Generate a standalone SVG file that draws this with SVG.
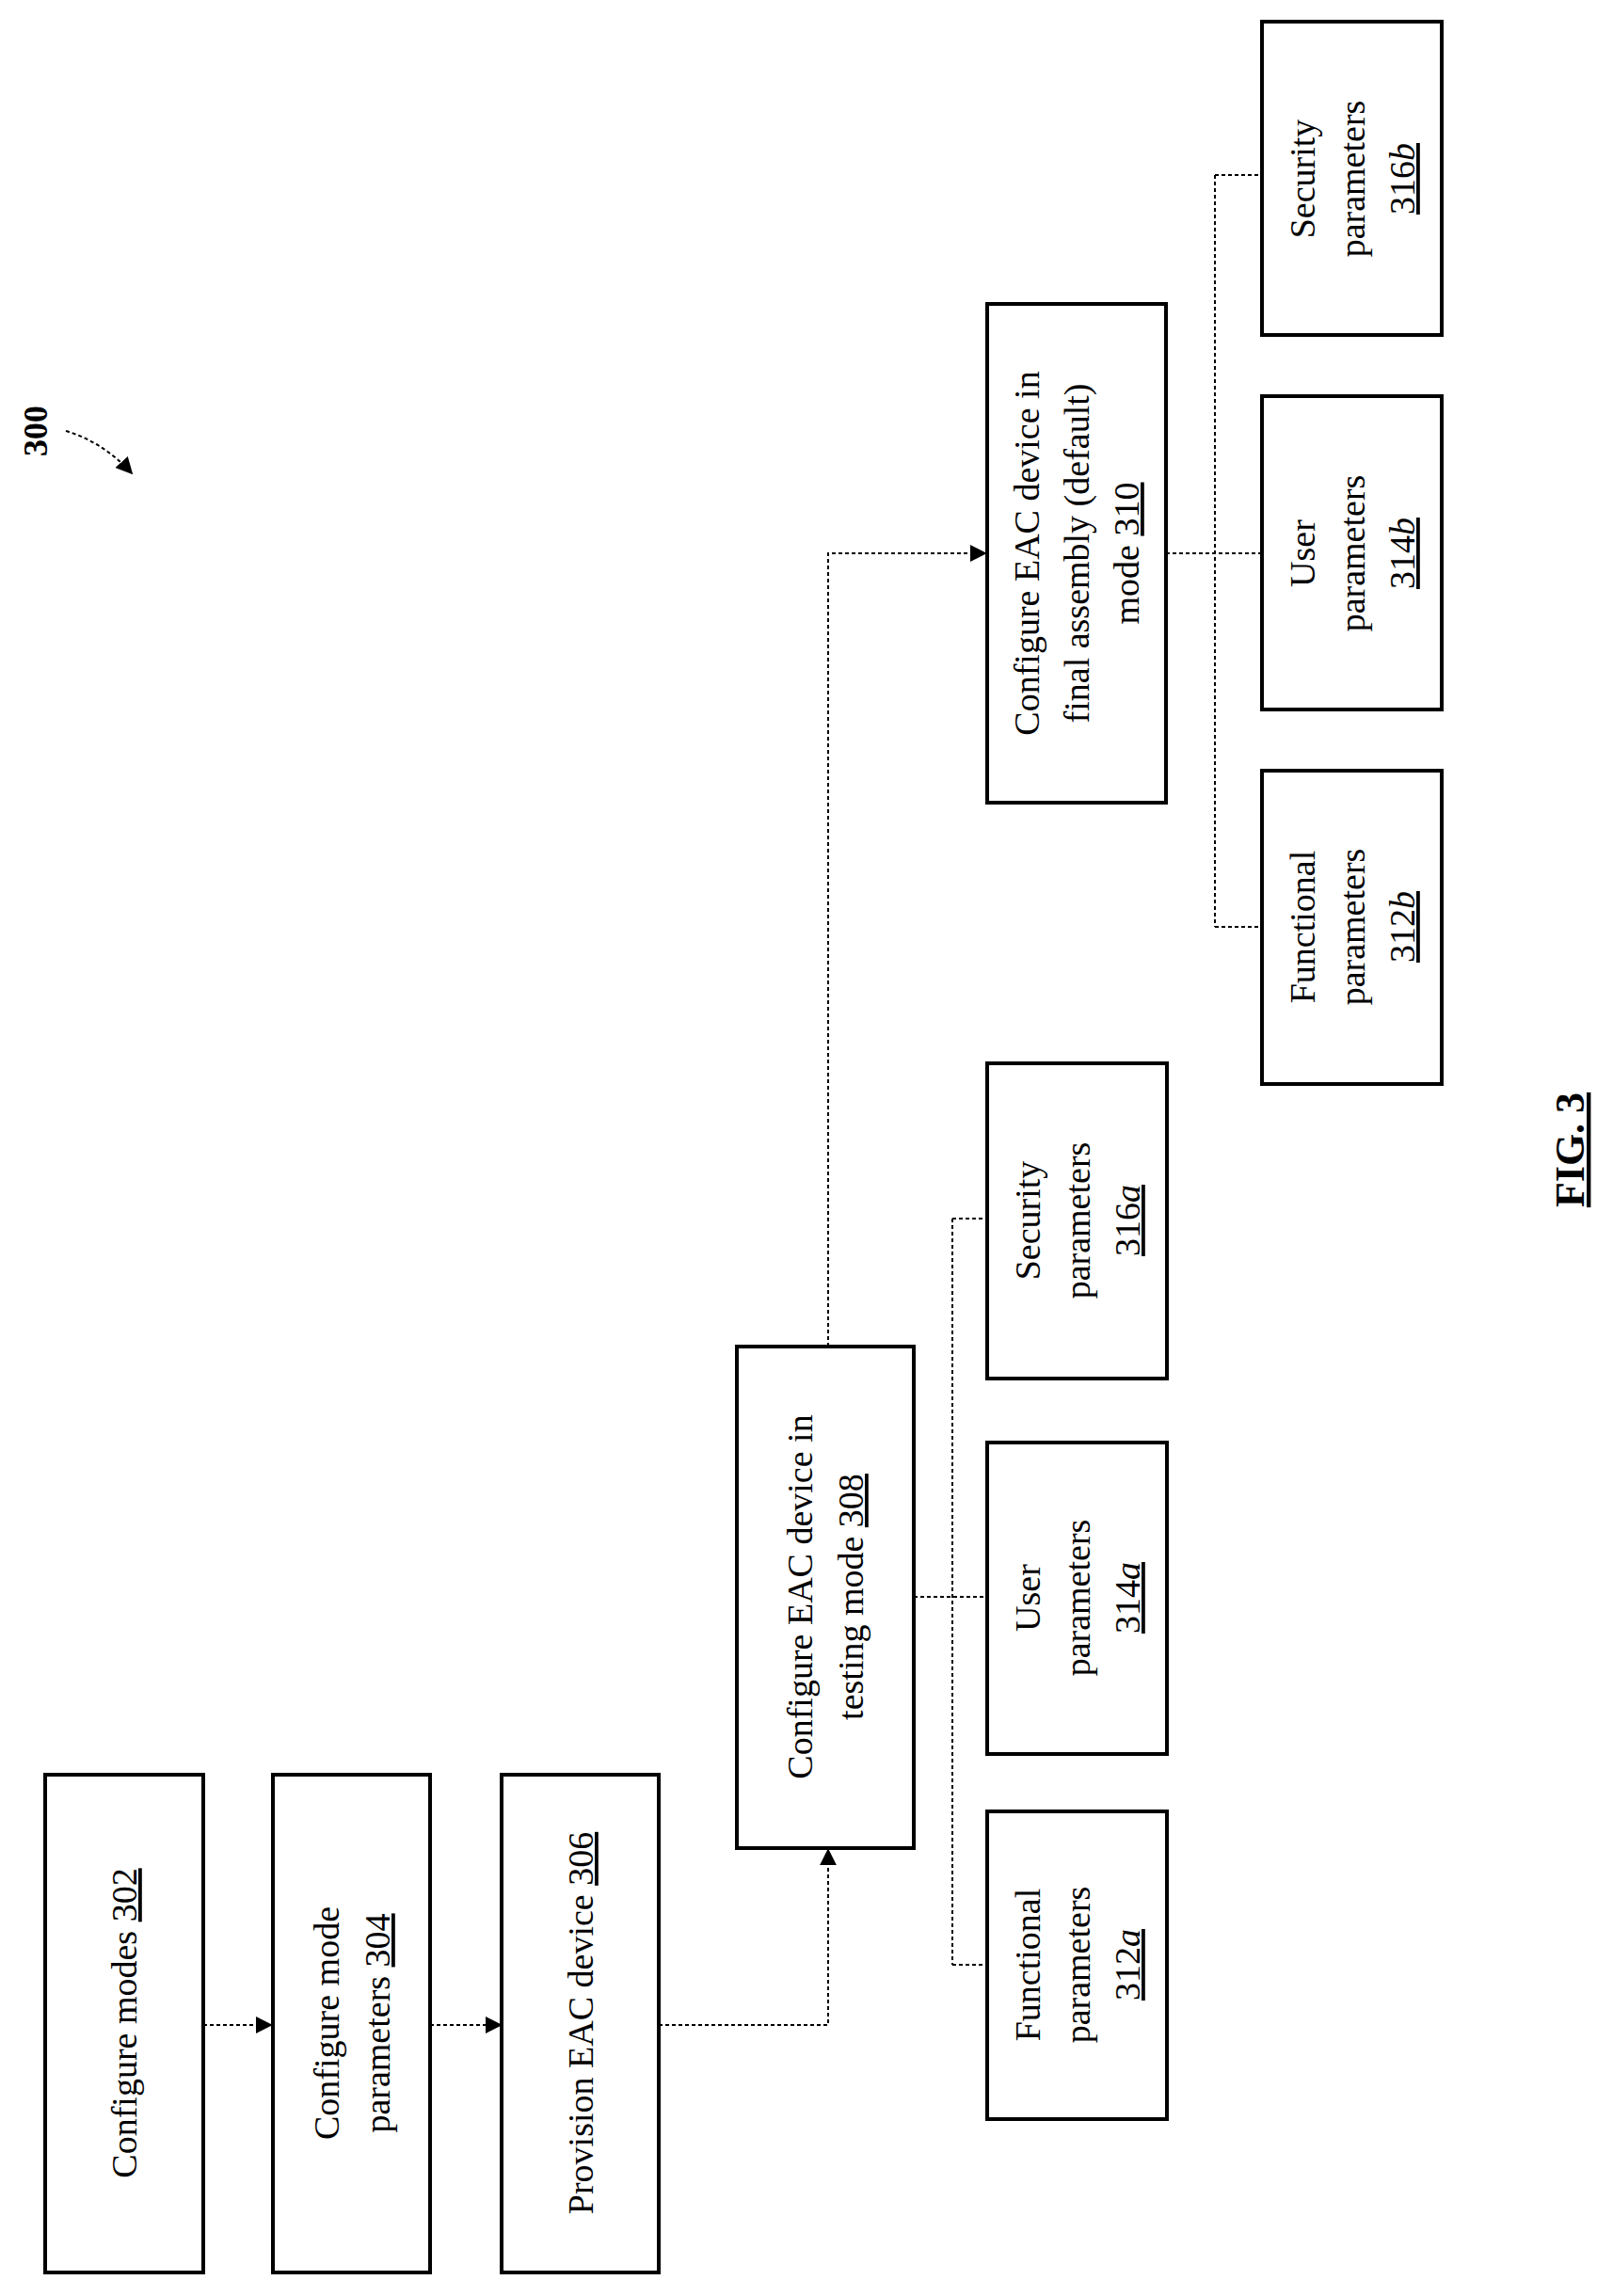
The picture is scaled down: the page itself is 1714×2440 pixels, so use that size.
<svg xmlns="http://www.w3.org/2000/svg" width="1714" height="2440" viewBox="0 0 1714 2440">
<style>
.box{fill:#fff;stroke:#000;stroke-width:4}
.t{font-family:"Liberation Serif",serif;font-size:38px;text-anchor:middle;fill:#000}
.c{fill:none;stroke:#000;stroke-width:2;stroke-dasharray:4 3}
.u{text-decoration:underline}
.b{font-weight:bold}
</style>
<defs>
<marker id="ah" viewBox="0 0 10 10" refX="9" refY="5" markerWidth="7" markerHeight="7" orient="auto" markerUnits="userSpaceOnUse" >
<path d="M0,0 L10,5 L0,10 z" fill="#000"/>
</marker>
<marker id="a2" viewBox="0 0 10 10" refX="9" refY="5" markerWidth="18" markerHeight="18" orient="auto" markerUnits="userSpaceOnUse">
<path d="M0,0 L10,5 L0,10 z" fill="#000"/>
</marker>
</defs>
<g id="connectors">
<path class="c" d="M216,2152 H288" marker-end="url(#a2)"/>
<path class="c" d="M457,2152 H532" marker-end="url(#a2)"/>
<path class="c" d="M700,2152 H880 V1966" marker-end="url(#a2)"/>
<path class="c" d="M880,1431 V588 H1047" marker-end="url(#a2)"/>
<path class="c" d="M971,1697 H1049 M1012,1295 V2088 M1012,1295 H1049 M1012,2088 H1049"/>
<path class="c" d="M1239,588 H1341 M1291,186 V985 M1291,186 H1341 M1291,985 H1341"/>
<path class="c" d="M70,458 Q110,470 140,503" marker-end="url(#a2)"/>
</g>
<g id="n300"><text class="t b" transform="translate(50,458) rotate(-90)" style="font-size:36px">300</text></g>
<g id="n302"><rect class="box" x="48" y="1886" width="168" height="529"/>
<text class="t" transform="translate(132,2150) rotate(-90)" dy="13">Configure modes <tspan class="u">302</tspan></text></g>
<g id="n304"><rect class="box" x="290" y="1886" width="167" height="529"/>
<text class="t" transform="translate(374,2150) rotate(-90)"><tspan x="0" y="-14">Configure mode</tspan><tspan x="0" y="40">parameters <tspan class="u">304</tspan></tspan></text></g>
<g id="n306"><rect class="box" x="533" y="1886" width="167" height="529"/>
<text class="t" transform="translate(617,2150) rotate(-90)" dy="13">Provision EAC device <tspan class="u">306</tspan></text></g>
<g id="n308"><rect class="box" x="783" y="1431" width="188" height="533"/>
<text class="t" transform="translate(877,1697) rotate(-90)"><tspan x="0" y="-14">Configure EAC device in</tspan><tspan x="0" y="40">testing mode <tspan class="u">308</tspan></tspan></text></g>
<g id="n310"><rect class="box" x="1049" y="323" width="190" height="530"/>
<text class="t" transform="translate(1144,588) rotate(-90)"><tspan x="0" y="-40">Configure EAC device in</tspan><tspan x="0" y="13">final assembly (default)</tspan><tspan x="0" y="66">mode <tspan class="u">310</tspan></tspan></text></g>
<g id="n316a"><rect class="box" x="1049" y="1130" width="191" height="335"/>
<text class="t" transform="translate(1145,1297) rotate(-90)"><tspan x="0" y="-40">Security</tspan><tspan x="0" y="13">parameters</tspan><tspan x="0" y="66" class="u">316<tspan font-style="italic">a</tspan></tspan></text></g>
<g id="n314a"><rect class="box" x="1049" y="1533" width="191" height="331"/>
<text class="t" transform="translate(1145,1698) rotate(-90)"><tspan x="0" y="-40">User</tspan><tspan x="0" y="13">parameters</tspan><tspan x="0" y="66" class="u">314<tspan font-style="italic">a</tspan></tspan></text></g>
<g id="n312a"><rect class="box" x="1049" y="1925" width="191" height="327"/>
<text class="t" transform="translate(1145,2088) rotate(-90)"><tspan x="0" y="-40">Functional</tspan><tspan x="0" y="13">parameters</tspan><tspan x="0" y="66" class="u">312<tspan font-style="italic">a</tspan></tspan></text></g>
<g id="n316b"><rect class="box" x="1341" y="23" width="191" height="333"/>
<text class="t" transform="translate(1437,190) rotate(-90)"><tspan x="0" y="-40">Security</tspan><tspan x="0" y="13">parameters</tspan><tspan x="0" y="66" class="u">316<tspan font-style="italic">b</tspan></tspan></text></g>
<g id="n314b"><rect class="box" x="1341" y="421" width="191" height="333"/>
<text class="t" transform="translate(1437,588) rotate(-90)"><tspan x="0" y="-40">User</tspan><tspan x="0" y="13">parameters</tspan><tspan x="0" y="66" class="u">314<tspan font-style="italic">b</tspan></tspan></text></g>
<g id="n312b"><rect class="box" x="1341" y="819" width="191" height="333"/>
<text class="t" transform="translate(1437,985) rotate(-90)"><tspan x="0" y="-40">Functional</tspan><tspan x="0" y="13">parameters</tspan><tspan x="0" y="66" class="u">312<tspan font-style="italic">b</tspan></tspan></text></g>
<g id="fig"><text class="t b u" transform="translate(1683,1222) rotate(-90)" style="font-size:44px">FIG. 3</text></g>
</svg>
